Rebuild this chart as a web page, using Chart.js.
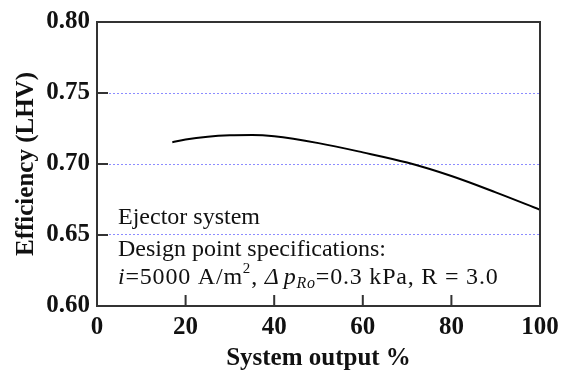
<!DOCTYPE html>
<html>
<head>
<meta charset="utf-8">
<script src="https://cdn.jsdelivr.net/npm/chart.js@4"></script>
<style>
  html, body { margin: 0; padding: 0; background: #fff; }
  #wrap { width: 569px; height: 374px; }
</style>
</head>
<body>
<div id="wrap"><canvas id="effChart" width="569" height="374"></canvas></div>
<script>
// System output (%) vs. efficiency (LHV) for the ejector system
var outputPct = [17, 20, 25, 30, 35, 40, 50, 60, 70, 80, 90, 100];
var efficiency = [0.7153, 0.7172, 0.7192, 0.7202, 0.7204, 0.7195, 0.7147, 0.7082, 0.7010, 0.6915, 0.6800, 0.6678];
var xTicks = [0, 20, 40, 60, 80, 100];
var yTicks = [0.60, 0.65, 0.70, 0.75, 0.80];

var serif = '"Liberation Serif", "Times New Roman", serif';

// box around the plot, inward tick marks and the notes in the lower-left corner
var frame = {
    id: 'frame',
    afterDatasetsDraw: function (chart) {
        var c = chart.ctx, a = chart.chartArea;
        var xs = chart.scales.x, ys = chart.scales.y;
        c.save();
        c.strokeStyle = '#333';
        c.lineWidth = 2;
        c.strokeRect(a.left, a.top, a.right - a.left, a.bottom - a.top);
        c.beginPath();
        yTicks.forEach(function (v) {
            var y = ys.getPixelForValue(v);
            c.moveTo(a.left, y); c.lineTo(a.left + 11, y);
        });
        xTicks.forEach(function (v) {
            var x = xs.getPixelForValue(v);
            c.moveTo(x, a.bottom); c.lineTo(x, a.bottom - 11);
        });
        c.stroke();

        c.fillStyle = '#111';
        c.textBaseline = 'alphabetic';
        var x0 = a.left + 21;
        c.font = '24px ' + serif;
        c.fillText('Ejector system', x0, 224);
        c.fillText('Design point specifications:', x0, 256);

        // third line with italic symbols, superscript and subscript
        c.letterSpacing = '0.8px';
        var x = x0, base = 284;
        function put(txt, font, dy, gap) {
            c.font = font;
            c.fillText(txt, x, base + (dy || 0));
            x += c.measureText(txt).width + (gap || 0);
        }
        put('i', 'italic 24px ' + serif);
        put('=5000 A/m', '24px ' + serif);
        put('2', '15px ' + serif, -11);
        put(', ', '24px ' + serif);
        put('\u0394', 'italic 24px ' + serif, 0, 4);
        put('p', 'italic 24px ' + serif);
        put('Ro', 'italic 16px ' + serif, 4);
        put('=0.3 kPa, R = 3.0', '24px ' + serif);
        c.restore();
    }
};

var ctx = document.getElementById('effChart').getContext('2d');

var effChart = new Chart(ctx, {
    type: 'line',
    data: {
        datasets: [{
            data: outputPct.map(function (x, i) { return { x: x, y: efficiency[i] }; }),
            borderColor: '#000',
            borderWidth: 2,
            pointRadius: 0,
            fill: false,
            cubicInterpolationMode: 'monotone'
        }]
    },
    options: {
        responsive: false,
        animation: false,
        layout: { padding: { top: 18, right: 29, left: 0, bottom: 0 } },
        plugins: { legend: { display: false }, tooltip: { enabled: false } },
        scales: {
            x: {
                type: 'linear',
                min: 0, max: 100,
                afterBuildTicks: function (s) { s.ticks = xTicks.map(function (v) { return { value: v }; }); },
                afterFit: function (s) { s.height = 68; },
                grid: { display: false, drawTicks: false },
                border: { display: false },
                ticks: {
                    padding: 7,
                    color: '#111',
                    font: { family: serif, size: 25, weight: 'bold' }
                },
                title: {
                    display: true,
                    text: 'System output %',
                    color: '#111',
                    padding: { top: 0, bottom: 0 },
                    font: { family: serif, size: 25, weight: 'bold' }
                }
            },
            y: {
                min: 0.60, max: 0.80,
                afterBuildTicks: function (s) { s.ticks = yTicks.map(function (v) { return { value: v }; }); },
                afterFit: function (s) { s.width = 97; },
                border: { display: false, dash: [2, 2] },
                grid: {
                    drawTicks: false,
                    lineWidth: 1,
                    color: function (g) {
                        var v = g.tick ? g.tick.value : 0;
                        return (v > 0.61 && v < 0.79) ? '#8c8cff' : 'rgba(0,0,0,0)';
                    }
                },
                ticks: {
                    padding: 7,
                    color: '#111',
                    font: { family: serif, size: 25, weight: 'bold' },
                    callback: function (v) { return v.toFixed(2); }
                },
                title: {
                    display: true,
                    text: 'Efficiency (LHV)',
                    color: '#111',
                    padding: { top: 12, bottom: 0 },
                    font: { family: serif, size: 25, weight: 'bold' }
                }
            }
        }
    },
    plugins: [frame]
});
</script>
</body>
</html>
